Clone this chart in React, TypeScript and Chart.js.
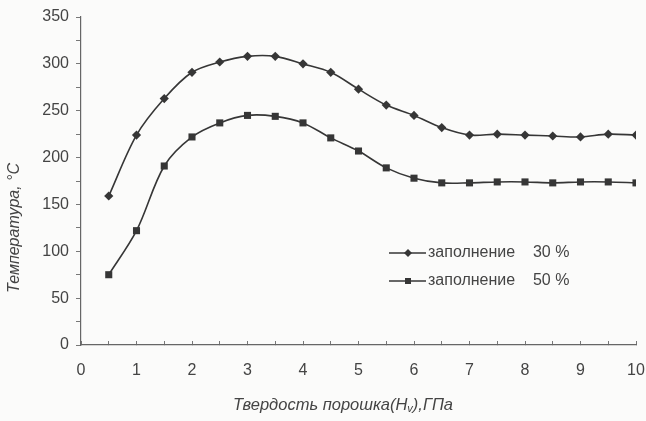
import { useEffect, useRef } from "react";
import { Chart, registerables } from "chart.js";

Chart.register(...registerables);

// Powder hardness, GPa
const hardness = [0.5, 1, 1.5, 2, 2.5, 3, 3.5, 4, 4.5, 5, 5.5, 6, 6.5, 7, 7.5, 8, 8.5, 9, 9.5, 10];
// Temperature, °C, at 30 % fill
const fill30 = [159, 224, 263, 291, 302, 308, 308, 300, 291, 273, 256, 245, 232, 224, 225, 224, 223, 222, 225, 224];
// Temperature, °C, at 50 % fill
const fill50 = [75, 122, 191, 222, 237, 245, 244, 237, 221, 207, 189, 178, 173, 173, 174, 174, 173, 174, 174, 173];

const seriesLabels = ["заполнение    30 %", "заполнение    50 %"];
const seriesMarkers = ["rectRot", "rect"];
const yTitle = "Температура, °C";
const xTitleMain = "Твердость порошка(H";
const xTitleSub = "v";
const xTitleTail = "),ГПа";

const FONT = "'Liberation Sans', Arial, Helvetica, sans-serif";
const INK = "#363636";
const TEXT = "#444444";

function markerPath(ctx: CanvasRenderingContext2D, style: string, x: number, y: number, r: number) {
  ctx.beginPath();
  if (style === "rectRot") {
    ctx.moveTo(x, y - r);
    ctx.lineTo(x + r, y);
    ctx.lineTo(x, y + r);
    ctx.lineTo(x - r, y);
    ctx.closePath();
  } else {
    const h = r * 0.75;
    ctx.rect(x - h, y - h, h * 2, h * 2);
  }
  ctx.fill();
}

const decorPlugin = {
  id: "decor",
  beforeDraw(chart: any) {
    const { ctx, width, height } = chart;
    ctx.save();
    ctx.fillStyle = "#fbfbfa";
    ctx.fillRect(0, 0, width, height);
    ctx.restore();
  },
  afterDraw(chart: any) {
    const { ctx, chartArea } = chart;
    ctx.save();

    // legend inside the plot area
    const lx = chartArea.left + 308;
    const rows = [chartArea.top + 236, chartArea.top + 264];
    chart.data.datasets.forEach((ds: any, i: number) => {
      const y = rows[i];
      ctx.strokeStyle = INK;
      ctx.lineWidth = 1.5;
      ctx.beginPath();
      ctx.moveTo(lx, y);
      ctx.lineTo(lx + 37, y);
      ctx.stroke();
      ctx.fillStyle = INK;
      markerPath(ctx, seriesMarkers[i], lx + 19, y, 4);
      ctx.fillStyle = TEXT;
      ctx.font = `16px ${FONT}`;
      ctx.textBaseline = "middle";
      ctx.textAlign = "left";
      ctx.fillText(ds.label, lx + 39, y);
    });

    // y-axis title
    ctx.fillStyle = TEXT;
    ctx.font = `italic 16px ${FONT}`;
    ctx.translate(15, chartArea.top + 211);
    ctx.rotate(-Math.PI / 2);
    ctx.textAlign = "center";
    ctx.textBaseline = "middle";
    ctx.fillText(yTitle, 0, 0);
    ctx.setTransform(1, 0, 0, 1, 0, 0);

    // x-axis title with subscript
    const big = `italic 16.5px ${FONT}`;
    const small = `italic 11px ${FONT}`;
    ctx.font = big;
    const w1 = ctx.measureText(xTitleMain).width;
    const w3 = ctx.measureText(xTitleTail).width;
    ctx.font = small;
    const w2 = ctx.measureText(xTitleSub).width;
    const total = w1 + w2 + w3;
    const cx = chartArea.left + 262;
    const ty = chartArea.bottom + 60;
    let x = cx - total / 2;
    ctx.textAlign = "left";
    ctx.textBaseline = "middle";
    ctx.font = big;
    ctx.fillText(xTitleMain, x, ty);
    x += w1;
    ctx.font = small;
    ctx.fillText(xTitleSub, x, ty + 4);
    x += w2;
    ctx.font = big;
    ctx.fillText(xTitleTail, x, ty);
    ctx.restore();
  },
};

export default function App() {
  const ref = useRef<HTMLCanvasElement>(null);

  useEffect(() => {
    if (!ref.current) return;
    const makeSet = (label: string, data: number[], marker: string, radius: number) => ({
      label,
      data: hardness.map((h, i) => ({ x: h, y: data[i] })),
      borderColor: INK,
      backgroundColor: INK,
      borderWidth: 1.6,
      pointStyle: marker,
      pointRadius: radius,
      pointBorderWidth: 0,
      pointBackgroundColor: INK,
      tension: 0.33,
      fill: false,
    });

    const chart = new Chart(ref.current, {
      type: "line",
      data: {
        datasets: [
          makeSet(seriesLabels[0], fill30, seriesMarkers[0], 4.6),
          makeSet(seriesLabels[1], fill50, seriesMarkers[1], 5),
        ],
      },
      options: {
        responsive: false,
        animation: false,
        layout: { padding: { left: 0, top: 17, right: 0, bottom: 0 } },
        plugins: { legend: { display: false }, tooltip: { enabled: false } },
        scales: {
          x: {
            type: "linear",
            min: 0,
            max: 10,
            afterFit: (s: any) => {
              s.height = 76;
              s.paddingRight = 10;
              s.paddingLeft = 0;
            },
            border: { display: true, color: "#666", width: 1.2 },
            grid: { drawOnChartArea: false, drawTicks: true, tickLength: -4, color: "#777", lineWidth: 1 },
            ticks: {
              stepSize: 0.5,
              padding: 20,
              color: TEXT,
              font: { family: FONT, size: 16 },
              callback: (v: any) => (Number.isInteger(v) ? String(v) : ""),
              maxRotation: 0,
              autoSkip: false,
            },
          },
          y: {
            min: 0,
            max: 350,
            afterFit: (s: any) => { s.width = 81; },
            border: { display: true, color: "#666", width: 1.2 },
            grid: { drawOnChartArea: false, drawTicks: true, tickLength: 5, color: "#777", lineWidth: 1 },
            ticks: {
              stepSize: 25,
              padding: 7,
              color: TEXT,
              font: { family: FONT, size: 16 },
              callback: (v: any) => (v % 50 === 0 ? String(v) : ""),
              autoSkip: false,
            },
          },
        },
      },
      plugins: [decorPlugin],
    } as any);

    return () => chart.destroy();
  }, []);

  return (
    <canvas
      ref={ref}
      width={646}
      height={421}
      style={{ position: "fixed", left: 0, top: 0, width: 646, height: 421 }}
    />
  );
}
